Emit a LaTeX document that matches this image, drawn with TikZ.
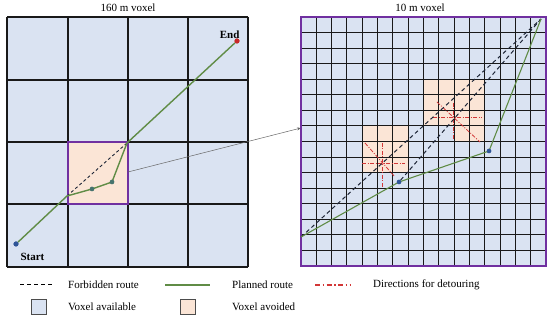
\documentclass[tikz,border=0pt]{standalone}
\usepackage{fontspec}
\setmainfont{Liberation Serif}
\usetikzlibrary{arrows.meta}

\definecolor{voxelblue}{RGB}{218,227,242}
\definecolor{voxelorange}{RGB}{251,229,214}
\definecolor{voxelpurple}{RGB}{112,48,160}
\definecolor{routegreen}{RGB}{96,140,70}
\definecolor{dotblue}{RGB}{47,85,151}
\definecolor{dotteal}{RGB}{70,115,110}
\definecolor{endred}{RGB}{200,40,40}
\definecolor{detourred}{RGB}{210,55,55}
\definecolor{routedark}{RGB}{30,38,55}

\begin{document}
\begin{tikzpicture}[x=1pt, y=-1pt, >=Stealth, font=\fontsize{11}{13}\selectfont,
		gridline/.style={draw=black!90, line width=1.1pt},
		forbidden/.style={draw=routedark, line width=1pt, dash pattern=on 4pt off 3pt},
		planned/.style={draw=routegreen, line width=1.4pt},
		detour/.style={draw=detourred, line width=0.8pt, dash pattern=on 4pt off 1.5pt on 1pt off 1.5pt},
		dot/.style={circle, inner sep=0pt, minimum size=5pt},
		keybox/.style={draw=black!70, line width=0.6pt, minimum width=15pt, minimum height=15pt, inner sep=0pt},
		keytext/.style={anchor=west, inner sep=0pt}]
		\useasboundingbox (0,0) rectangle (550,320);
		% left: 160 m voxel grid
		\fill[voxelblue] (7,17) rectangle (248,267);
		\fill[voxelorange] (68,142) rectangle (128,204);
		\foreach \x in {7,68,128,188,248} \draw[gridline] (\x,17) -- (\x,267);
		\foreach \y in {17,80,142,204,267} \draw[gridline] (7,\y) -- (248,\y);
		\draw[voxelpurple, line width=1.1pt] (68,142) rectangle (128,204);
		\node (title-l) at (128,8) {160 m voxel};
		% route through the coarse grid
		\coordinate (l-in) at (67,196);
		\coordinate (l-out) at (127,143);
		\node[dot, fill=dotblue] (start) at (16,244) {};
		\node[dot, fill=endred] (end) at (237,41) {};
		\node[dot, minimum size=4.5pt, fill=dotteal] (l-w1) at (92,189) {};
		\node[dot, minimum size=4.5pt, fill=dotteal] (l-w2) at (112,182) {};
		\draw[forbidden, line width=0.9pt, dash pattern=on 3pt off 2.5pt] (l-in) -- (l-out);
		\draw[planned] (start) -- (l-in) -- (l-w1.center) -- (l-w2.center) -- (l-out) -- (end);
		\node[dot, fill=dotblue] at (start) {};
		\node[dot, fill=endred] at (end) {};
		\node[dot, minimum size=4.5pt, fill=dotteal] at (l-w1) {};
		\node[dot, minimum size=4.5pt, fill=dotteal] at (l-w2) {};
		\node[font=\fontsize{11}{13}\selectfont\bfseries, anchor=east] (end-lbl) at (243,35) {End};
		\node[font=\fontsize{11}{13}\selectfont\bfseries, anchor=west] (start-lbl) at (17,257) {Start};
		% zoom connector
		\coordinate (zoom-from) at (128,172);
		\coordinate (zoom-to) at (301,128);
		\draw[->, draw=black!60, line width=0.5pt, >={Stealth[length=4pt, width=3pt]}] (zoom-from) -- (zoom-to);
		% right: 10 m voxel grid (16 x 16 cells)
		\fill[voxelblue] (301,17) rectangle (546,266);
		\fill[voxelorange] (362.25,125.94) rectangle (408.19,172.63);
		\fill[voxelorange] (423.5,79.25) -- (484.75,79.25) -- (484.75,141.5) -- (454.13,141.5) -- (454.13,126) -- (423.5,126) -- cycle;
		\foreach \i in {1,...,15} {
			\draw[gridline, line width=0.9pt] ({301+15.3125*\i},17) -- ({301+15.3125*\i},266);
			\draw[gridline, line width=0.9pt] (301,{17+15.5625*\i}) -- (546,{17+15.5625*\i});
		}
		\draw[voxelpurple, line width=1.5pt] (301,17) rectangle (546,266);
		\node (title-r) at (420,8) {10 m voxel};
		% directions for detouring around the two avoided blocks
		\coordinate (c1) at (382,163);
		\draw[detour] (362,163) -- (405,163);
		\draw[detour] (382,143) -- (382,187);
		\draw[detour] (365,143) -- (395,177);
		\coordinate (c2) at (453,117);
		\draw[detour] (433,117) -- (482,117);
		\draw[detour] (453,103) -- (453,140);
		\draw[detour] (437,102) -- (480,142);
		% forbidden and planned routes in the fine grid
		\coordinate (r-s) at (301,237);
		\coordinate (r-e) at (541,19);
		\node[dot, minimum size=4.5pt, fill=dotblue] (r-w1) at (399,182) {};
		\node[dot, minimum size=4.5pt, fill=dotblue] (r-w2) at (489,151) {};
		\draw[forbidden] (r-s) -- (r-e);
		\draw[forbidden] (r-w1) -- (r-e);
		\draw[planned, line width=1.1pt] (r-s) -- (r-w1.center) -- (r-w2.center) -- (r-e);
		\node[dot, minimum size=4.5pt, fill=dotblue] at (r-w1) {};
		\node[dot, minimum size=4.5pt, fill=dotblue] at (r-w2) {};
		% legend
		\coordinate (key-fr-a) at (20,285);
		\coordinate (key-fr-b) at (53,285);
		\draw[forbidden, draw=black] (key-fr-a) -- (key-fr-b);
		\node[keytext] (key-fr) at (68,285) {Forbidden route};
		\coordinate (key-pl-a) at (165,285);
		\coordinate (key-pl-b) at (210,285);
		\draw[planned] (key-pl-a) -- (key-pl-b);
		\node[keytext] (key-pl) at (232,285) {Planned route};
		\coordinate (key-dt-a) at (315,285);
		\coordinate (key-dt-b) at (350,285);
		\draw[detour, line width=1.1pt, dash pattern=on 5pt off 2.5pt on 1.5pt off 2.5pt] (key-dt-a) -- (key-dt-b);
		\node[keytext] (key-dt) at (373,285) {Directions for detouring};
		\node[keybox, fill=voxelblue] (key-av-box) at (38.5,307) {};
		\node[keytext] (key-av) at (68,307) {Voxel available};
		\node[keybox, fill=voxelorange] (key-ad-box) at (187.5,307) {};
		\node[keytext] (key-ad) at (232,307) {Voxel avoided};
	\end{tikzpicture}
\end{document}
